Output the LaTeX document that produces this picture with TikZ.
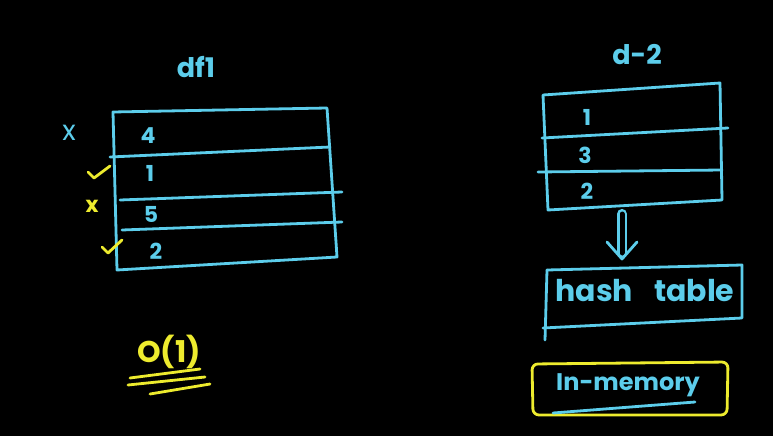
\documentclass[tikz,border=0pt]{standalone}
\usepackage{fontspec}
\setmainfont{Poppins}
\usetikzlibrary{arrows.meta}
\definecolor{chalkblue}{HTML}{5CCDEB}
\definecolor{chalkyellow}{HTML}{EDEB2E}
\tikzset{
  pen/.style={line width=2.8pt, line cap=round, line join=round, chalkblue},
  hl/.style={line width=2.8pt, line cap=round, line join=round, chalkyellow},
  word/.style={text=chalkblue, inner sep=0pt, font=\fontsize{22}{24}\selectfont\bfseries},
  tick/.style={text=chalkyellow, inner sep=0pt, font=\fontsize{20}{22}\selectfont\bfseries}
}
\begin{document}
\begin{tikzpicture}[x=1pt, y=-1pt]
		\fill[black] (0,0) rectangle (773,436);
		\useasboundingbox (0,0) rectangle (773,436);

		\node[word, font=\fontsize{27}{29}\selectfont\bfseries] (df1lab) at (196, 67) {df1};
		\draw[pen] (113, 112) -- (327, 108) -- (337, 257) -- (117, 270) -- cycle;
		\draw[pen] (110, 157) -- (330, 147);
		\draw[pen] (120, 200) -- (342, 192);
		\draw[pen] (122, 230) -- (342, 222);
		\node[word] (v4) at (148, 136) {4};
		\node[word] (v1) at (150, 173) {1};
		\node[word] (v5) at (151, 214) {5};
		\node[word] (v2) at (156, 251) {2};
		\node[word, font=\fontsize{28}{30}\selectfont] (c4) at (69, 133) {x};
		\draw[hl] (88, 172) -- (94, 178) -- (110, 166);
		\node[tick, font=\fontsize{22}{24}\selectfont\bfseries] (c5) at (92, 206) {x};
		\draw[hl] (102, 247) -- (108, 253) -- (122, 240);

		\node[word, font=\fontsize{27}{29}\selectfont\bfseries] (d2lab) at (637, 55) {d-2};
		\draw[pen] (543, 95) -- (720, 83) -- (722, 200) -- (548, 210) -- cycle;
		\draw[pen] (542, 138) -- (728, 128);
		\draw[pen] (538, 172) -- (722, 170);
		\node[word] (w1) at (587, 117) {1};
		\node[word] (w3) at (585, 155) {3};
		\node[word] (w2) at (587, 191) {2};

		\coordinate (d2bot) at (622, 214);
		\coordinate (hashtop) at (622, 259);
		\draw[pen, line width=2.6pt, double=black, double distance=5pt] (d2bot) -- ([yshift=6pt]hashtop);
		\draw[pen] ([xshift=-15pt, yshift=17pt]hashtop) -- (hashtop) -- ([xshift=15pt, yshift=17pt]hashtop);

		\draw[pen] (547, 270) -- (742, 265) -- (742, 318) -- (543, 328);
		\draw[pen] (547, 270) -- (545, 340);
		\node[word, font=\fontsize{30}{32}\selectfont\bfseries] (hash) at (645, 291) {hash\hspace{0.7em}table};

		\draw[hl, rounded corners=6pt] (532, 364) -- (728, 362) -- (727, 415) -- (533, 415) -- cycle;
		\node[word, font=\fontsize{24}{26}\selectfont\bfseries] (inmem) at (628, 385) {In-memory};
		\draw[pen] (553, 413) -- (695, 402);

		\node[tick, font=\fontsize{30}{32}\selectfont\bfseries] (bigo) at (169, 352) {O(1)};
		\draw[hl] (130, 378) -- (200, 369);
		\draw[hl] (128, 385) -- (205, 377);
		\draw[hl] (150, 394) -- (210, 384);
	\end{tikzpicture}
\end{document}
